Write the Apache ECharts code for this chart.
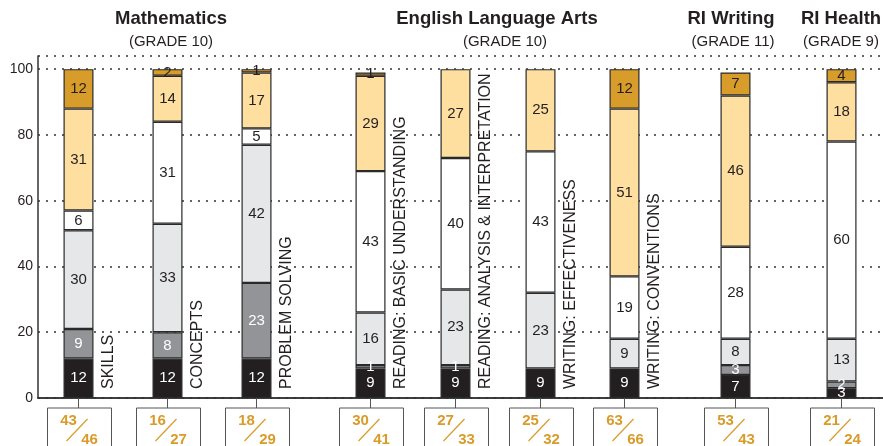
<!DOCTYPE html>
<html>
<head>
<meta charset="utf-8">
<script src="https://cdn.jsdelivr.net/npm/echarts@6/dist/echarts.min.js"></script>
<style>
  html, body { margin: 0; padding: 0; background: #fff; }
  #chart { width: 883px; height: 446px; }
</style>
</head>
<body>
<div id="chart"></div>
<script>
// data
const categories = ['SKILLS', 'CONCEPTS', 'PROBLEM SOLVING',
  'READING: BASIC UNDERSTANDING', 'READING: ANALYSIS & INTERPRETATION',
  'WRITING: EFFECTIVENESS', 'WRITING: CONVENTIONS', '', ''];
// stacked from bottom to top
const level1 = [12, 12, 12, 9, 9, 9, 9, 7, 3];
const level2 = [9, 8, 23, 1, 1, 0, 0, 3, 2];
const level3 = [30, 33, 42, 16, 23, 23, 9, 8, 13];
const level4 = [6, 31, 5, 43, 40, 43, 19, 28, 60];
const level5 = [31, 14, 17, 29, 27, 25, 51, 46, 18];
const level6 = [12, 2, 1, 1, 0, 0, 12, 7, 4];
const countTop = [43, 16, 18, 30, 27, 25, 63, 53, 21];
const countBottom = [46, 27, 29, 41, 33, 32, 66, 43, 24];
const yTicks = [0, 20, 40, 60, 80, 100];

// layout: the x axis is split into 1px slots; each bar sits in one slot
const SLOTS = 845;
const barSlot = [40, 129, 218, 332, 417, 502, 586, 697, 803];

const levelColors = ['#231f20', '#929497', '#e6e7e8', '#ffffff', '#fedf9f', '#d89c2a'];
const labelColors = ['#fff', '#fff', '#231f20', '#231f20', '#231f20', '#231f20'];
const orange = '#d99b29';
const font = "'Liberation Sans', Arial, sans-serif";

const chart = echarts.init(document.getElementById('chart'));

const slotNames = [];
for (let s = 0; s < SLOTS; s++) slotNames.push(String(s));

function spread(vals) {
  const arr = new Array(SLOTS).fill(null);
  vals.forEach((v, i) => { arr[barSlot[i]] = v === 0 ? null : v; });
  return arr;
}

const levels = [level1, level2, level3, level4, level5, level6];
const barSeries = levels.map((vals, k) => ({
  type: 'bar',
  stack: 'total',
  barWidth: 30,
  data: spread(vals),
  itemStyle: { color: levelColors[k], borderColor: '#2a2a2a', borderWidth: 1.2 },
  label: {
    show: true,
    position: 'inside',
    color: labelColors[k],
    fontSize: 15,
    fontFamily: font,
    formatter: p => (p.value ? p.value : '')
  },
  emphasis: { disabled: true }
}));

const extras = {
  type: 'custom',
  coordinateSystem: 'cartesian2d',
  clip: false,
  silent: true,
  z: 10,
  encode: { x: 0, y: 1 },
  data: barSlot.map(s => [s, 0]),
  renderItem: function (params, api) {
    const i = params.dataIndex;
    const p = api.coord([api.value(0), 0]);
    const cx = p[0], y0 = p[1];
    return {
      type: 'group',
      children: [
        { type: 'line', shape: { x1: cx, y1: y0, x2: cx, y2: y0 + 10 },
          style: { stroke: '#555', lineWidth: 1 } },
        { type: 'rect', shape: { x: cx - 31, y: y0 + 10, width: 64, height: 60 },
          style: { fill: '#fff', stroke: '#555', lineWidth: 1 } },
        { type: 'text', x: cx - 10, y: y0 + 23,
          style: { text: String(countTop[i]), fill: orange, font: 'bold 15px ' + font,
                   align: 'center', verticalAlign: 'middle' } },
        { type: 'text', x: cx + 11, y: y0 + 42,
          style: { text: String(countBottom[i]), fill: orange, font: 'bold 15px ' + font,
                   align: 'center', verticalAlign: 'middle' } },
        { type: 'line', shape: { x1: cx - 12, y1: y0 + 43, x2: cx + 9, y2: y0 + 21 },
          style: { stroke: orange, lineWidth: 1.2 } },
        { type: 'text', x: cx + 30, y: y0 - 9, rotation: Math.PI / 2,
          style: { text: categories[i], fill: '#231f20', font: '16px ' + font,
                   align: 'left', verticalAlign: 'middle' } }
      ]
    };
  }
};

const groups = [
  { name: 'Mathematics', grade: '(GRADE 10)', x: 171, gx: 171 },
  { name: 'English Language Arts', grade: '(GRADE 10)', x: 497, gx: 505 },
  { name: 'RI Writing', grade: '(GRADE 11)', x: 731, gx: 733 },
  { name: 'RI Health', grade: '(GRADE 9)', x: 841, gx: 841 }
];
const graphic = [];
groups.forEach(g => {
  graphic.push({ type: 'text', x: g.x, y: 19,
    style: { text: g.name, font: 'bold 18.5px ' + font, fill: '#231f20',
             align: 'center', verticalAlign: 'middle' } });
  graphic.push({ type: 'text', x: g.gx, y: 42,
    style: { text: g.grade, font: '15px ' + font, fill: '#231f20',
             align: 'center', verticalAlign: 'middle' } });
});

const option = {
  animation: false,
  grid: { left: 38, right: 0, top: 56, bottom: 48 },
  xAxis: [
    { type: 'category', data: slotNames, position: 'bottom',
      axisLine: { show: true, onZero: false, lineStyle: { color: '#333', width: 1.5 } },
      axisTick: { show: false }, axisLabel: { show: false }, splitLine: { show: false } },
    { type: 'value', min: 0, max: 1, position: 'top',
      axisLine: { show: true, lineStyle: { color: '#333', width: 1.5 } },
      axisTick: { show: false }, axisLabel: { show: false }, splitLine: { show: false } }
  ],
  yAxis: {
    type: 'value', min: yTicks[0], max: 104, interval: 20,
    axisLine: { show: true, lineStyle: { color: '#333', width: 1.5 } },
    axisTick: { show: false },
    axisLabel: { color: '#231f20', fontSize: 14, margin: 5, fontFamily: font,
                 formatter: v => (yTicks.indexOf(v) >= 0 ? v : '') },
    splitLine: { show: true, lineStyle: { color: '#333', width: 1.5, type: [2, 6] } }
  },
  graphic: graphic,
  series: barSeries.concat([extras])
};

chart.setOption(option);
</script>
</body>
</html>
